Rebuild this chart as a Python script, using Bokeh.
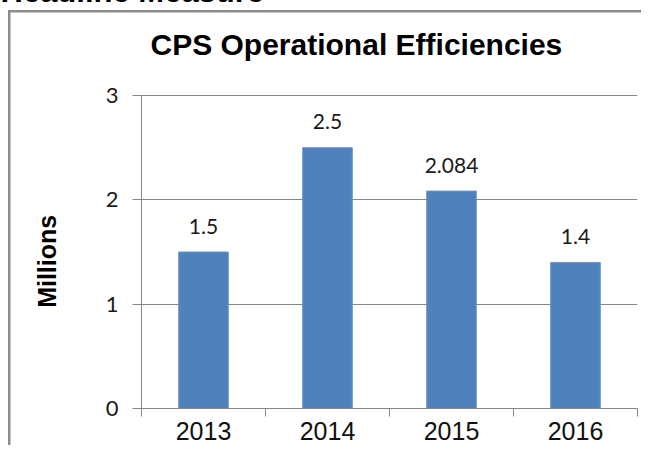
from bokeh.plotting import figure
from bokeh.models import Range1d, FixedTicker, ColumnDataSource, Title
from bokeh.core.properties import value
from bokeh.embed import file_html
from bokeh.resources import INLINE

# ---- data ----
years = ["2013", "2014", "2015", "2016"]
savings = [1.5, 2.5, 2.084, 1.4]
value_labels = ["1.5", "2.5", "2.084", "1.4"]
y_ticks = [0, 1, 2, 3]
title_text = "CPS Operational Efficiencies"
y_label = "Millions"
headline = "Headline Measure"

pos = [i + 0.5 for i in range(len(years))]
src = ColumnDataSource(dict(x=pos, top=savings, label=value_labels))

GRAY = "#868686"
BORDER = "#8c8c8c"
BLUE = "#4F81BD"
SHIFT = 40          # canvas extends this many px above the visible page top
FRAME_TOP = 72      # visible y of the plot frame's top (range headroom above 3)
Y_END = 3 * (408 - FRAME_TOP) / (408 - 95)

p = figure(width=641, height=445 + SHIFT,
           x_range=Range1d(0, len(years)), y_range=Range1d(0, Y_END),
           output_backend="svg", toolbar_location=None,
           min_border_left=141, min_border_right=4,
           min_border_top=FRAME_TOP + SHIFT, min_border_bottom=37)
p.styles = {
    "margin-top": f"-{SHIFT}px",
    "background": (f"linear-gradient({BORDER}, {BORDER}) 8px {10 + SHIFT}px / 2.5px 2000px no-repeat, "
                   f"linear-gradient({BORDER}, {BORDER}) 8px {10 + SHIFT}px / 2000px 2.5px no-repeat"),
}
p.outline_line_color = None
p.background_fill_color = "white"
p.border_fill_color = None

p.vbar(x="x", top="top", width=0.4, source=src,
       fill_color=BLUE, line_color="#6b96cc", line_width=1)
p.text(x="x", y="top", text="label", source=src, y_offset=-26,
       text_align="center", text_baseline="middle",
       text_font=value("Lato"), text_font_size="21px", text_color="#1a1a1a")

# y axis
p.yaxis.ticker = FixedTicker(ticks=y_ticks)
p.yaxis.bounds = (min(y_ticks), max(y_ticks))
p.yaxis.major_tick_out = 9
p.yaxis.major_tick_in = 0
p.yaxis.minor_tick_line_color = None
p.yaxis.axis_line_color = GRAY
p.yaxis.major_tick_line_color = GRAY
p.yaxis.major_label_text_font = "Lato"
p.yaxis.major_label_text_font_size = "22px"
p.yaxis.major_label_text_color = "#1a1a1a"
p.yaxis.major_label_standoff = 14
# trailing no-break spaces push the rotated label down to sit beside the bars' middle
p.yaxis.axis_label = y_label + "\u00a0" * 6
p.yaxis.axis_label_text_font = "Liberation Sans"
p.yaxis.axis_label_text_font_style = "bold"
p.yaxis.axis_label_text_font_size = "25px"
p.yaxis.axis_label_text_color = "black"
p.yaxis.axis_label_standoff = 42

p.ygrid.grid_line_color = GRAY
p.xgrid.visible = False

# x axis
p.xaxis.ticker = FixedTicker(ticks=pos, minor_ticks=list(range(len(years) + 1)))
p.xaxis.major_label_overrides = {x: y for x, y in zip(pos, years)}
p.xaxis.major_tick_line_color = None
p.xaxis.major_tick_out = 0
p.xaxis.major_tick_in = 0
p.xaxis.minor_tick_out = 8
p.xaxis.minor_tick_in = 0
p.xaxis.minor_tick_line_color = GRAY
p.xaxis.axis_line_color = GRAY
p.xaxis.major_label_text_font = "Liberation Sans"
p.xaxis.major_label_text_font_size = "25px"
p.xaxis.major_label_text_color = "#111111"
p.xaxis.major_label_standoff = 5

# chart title (closest to the frame) and the page headline above it
p.add_layout(Title(text=title_text, align="left", offset=9, standoff=24,
                   text_font="Liberation Sans", text_font_style="bold",
                   text_font_size="30px", text_color="black"), "above")
p.add_layout(Title(text=headline, align="left", offset=-141, standoff=10,
                   text_font="Liberation Sans", text_font_style="bold",
                   text_font_size="31px", text_color="black"), "above")

open("out.html", "w").write(file_html(p, INLINE))
